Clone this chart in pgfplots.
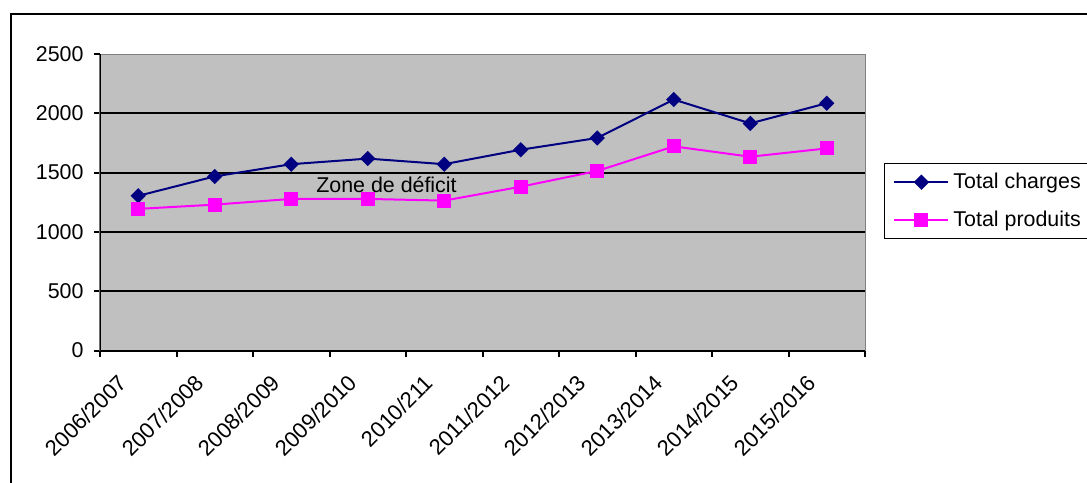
\documentclass[border=0pt]{standalone}
\usepackage{fontspec}
\setmainfont{Liberation Sans}
\usepackage{pgfplots}
\pgfplotsset{compat=1.18}
\definecolor{plotgray}{HTML}{C0C0C0}
\definecolor{bordergray}{HTML}{808080}
\definecolor{navyc}{HTML}{000080}
\definecolor{magc}{HTML}{FF00FF}
\begin{document}
\fontsize{10.7}{12.8}\selectfont
\begin{tikzpicture}[font=\fontsize{10.7}{12.8}\selectfont]
\begin{axis}[
  name=ax,
  at={(0,0)}, anchor=south west,
  scale only axis,
  width=382.5pt, height=148.25pt,
  xmin=0.5, xmax=10.5, ymin=0, ymax=2500,
  axis background/.style={fill=plotgray},
  axis line style={draw=bordergray, line width=0.5pt},
  xtick={0.5,1.5,...,10.5},
  x tick label as interval,
  xticklabels={2006/2007,2007/2008,2008/2009,2009/2010,2010/211,2011/2012,2012/2013,2013/2014,2014/2015,2015/2016},
  ticklabel style={font=\fontsize{10.7}{12.8}\selectfont},
  xticklabel style={xshift=-5pt, yshift=-8.5pt, rotate=45, anchor=east, font=\fontsize{11}{13}\selectfont},
  yticklabel style={xshift=-1.5pt},
  ytick={0,500,1000,1500,2000},
  extra y ticks={2500},
  extra y tick style={grid=none},
  ymajorgrids,
  major grid style={black, line width=1pt},
  tick align=outside,
  tick pos=left,
  major tick length=3pt,
  tick style={black, line width=1pt},
  /pgf/number format/assume math mode=true,
  /pgf/number format/1000 sep={},
  legend style={at={(1.0248,0.6314)}, anchor=north west, draw=black, line width=0.5pt,
    font=\fontsize{10.7}{12.8}\selectfont, inner xsep=4.5pt, inner ysep=2.5pt, row sep=5.5pt},
  legend cell align=left,
  legend image code/.code={\draw[mark repeat=2,mark phase=2] plot coordinates {(0pt,0pt)(13.5pt,0pt)(27pt,0pt)};},
]
\draw[black, line width=1pt] (rel axis cs:0,1) -- (rel axis cs:0,0) -- (rel axis cs:1,0);
\addplot[navyc, line width=1pt, mark=square*, mark size=2.2pt, mark options={rotate=45, solid, fill=navyc}]
  coordinates {(1,1304)(2,1468)(3,1571)(4,1618)(5,1571)(6,1693)(7,1792)(8,2116)(9,1915)(10,2085)};
\addlegendentry{Total charges}
\addplot[magc, line width=1pt, mark=square*, mark size=3pt, mark options={solid, fill=magc}]
  coordinates {(1,1194)(2,1230)(3,1278)(4,1278)(5,1264)(6,1381)(7,1514)(8,1721)(9,1634)(10,1704)};
\addlegendentry{Total produits}
\node[anchor=base] at (axis cs:4.245,1334) {Zone de déficit};
\end{axis}
\draw[line width=1pt] ([shift={(-44.5pt,-70pt)}]ax.south west) -- ([shift={(-44.5pt,168.4pt)}]ax.south west) -- ([shift={(500pt,168.4pt)}]ax.south west);
\pgfresetboundingbox
\path[use as bounding box] ([shift={(-50pt,-65.75pt)}]ax.south west) rectangle ([shift={(493.5pt,175.25pt)}]ax.south west);
\end{tikzpicture}
\end{document}
